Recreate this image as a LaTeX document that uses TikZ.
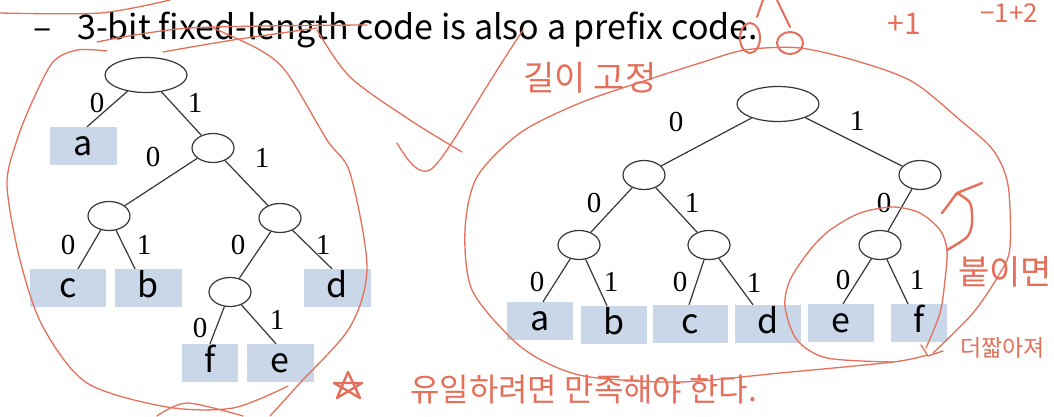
\documentclass[tikz,border=0pt]{standalone}
\usepackage{fontspec}
\setmainfont{Liberation Serif}
\newfontfamily\slidefont{Noto Sans CJK KR}
\newfontfamily\handfont{Noto Sans CJK KR}
\usetikzlibrary{shapes.geometric}
\definecolor{leafbg}{RGB}{202,215,233}
\definecolor{handred}{RGB}{228,112,92}
\definecolor{edgegray}{RGB}{55,55,55}

\begin{document}
\begin{tikzpicture}
      [x=1pt,y=-1pt
      ,knot/.style={ellipse,draw=edgegray,line width=1.2pt,minimum width=42pt,minimum height=29pt,inner sep=0pt}
      ,rootknot/.style={knot,minimum width=82pt,minimum height=35pt}
      ,leaf/.style={fill=leafbg,inner sep=0pt,minimum height=38pt,text height=24pt,text depth=6pt,font=\slidefont\fontsize{34}{34}\selectfont}
      ,bit/.style={font=\fontsize{29}{29}\selectfont}
      ,br/.style={draw=edgegray,line width=1.2pt}
      ,hand/.style={draw=handred,line width=1.3pt,line cap=round,line join=round}
      ,pen/.style={draw=handred,line width=2.4pt,line cap=round,line join=round}
      ,scrawl/.style={text=handred,inner sep=0pt,font=\handfont\fontsize{#1}{#1}\selectfont}
      ]
        \fill[white] (0,0) rectangle (1054,416);
        \useasboundingbox (0,0) rectangle (1054,416);

        % heading
        \node[anchor=base west,font=\slidefont\fontsize{34}{34}\selectfont] (dash) at (30,39) {–};
        \node[anchor=base west,inner sep=0pt,font=\slidefont\fontsize{34}{34}\selectfont] (title) at (77,39) {3-bit fixed-length code is also a prefix code.};

        % left tree
        \node[rootknot] (L) at (146,75) {};
        \node[knot] (L1) at (213,148) {};
        \node[knot] (L10) at (109,216) {};
        \node[knot] (L11) at (280,218) {};
        \node[knot] (L110) at (230,292) {};
        \foreach \n/\x/\y/\w/\t in {La/83/146/67/a, Lc/68/288/76/c, Lb/148/288/67/b, Ld/337/288/67/d, Lf/210/363/56/f, Le/280/363/67/e}
        {
            \node[leaf,minimum width=\w pt] (\n) at (\x,\y) {\t};
        }
        \draw[br] (L) -- (L1);
        \draw[br] (L1) -- (L10);
        \draw[br] (L1) -- (L11);
        \draw[br] (L11) -- (L110);
        \foreach \p/\c/\s in {L/La/4, L10/Lc/10, L10/Lb/-13, L11/Ld/-5, L110/Lf/0, L110/Le/-4}
        {
            \draw[br] (\p) -- ([xshift=\s pt]\c.north);
        }
        \foreach \x/\y/\t [count=\i] in {97/103/0, 195/103/1, 153/157/0, 262/158/1, 68/245/0, 144/245/1, 238/245/0, 323/245/1, 200/328/0, 277/320/1}
        {
            \node[bit] (lbit\i) at (\x,\y) {\t};
        }

        % right tree
        \node[rootknot] (R) at (778,104) {};
        \node[knot] (R0) at (644,175) {};
        \node[knot] (R1) at (920,175) {};
        \node[knot] (R00) at (579,245) {};
        \node[knot] (R01) at (709,245) {};
        \node[knot] (R10) at (880,245) {};
        \foreach \n/\x/\y/\w/\t in {Ra/540/321/66/a, Rb/614/325/66/b, Rc/690/324/75/c, Rd/768/324/66/d, Re/841/323/66/e, Rf/919/323/56/f}
        {
            \node[leaf,minimum width=\w pt] (\n) at (\x,\y) {\t};
        }
        \draw[br] (R) -- (R0);
        \draw[br] (R) -- (R1);
        \draw[br] (R0) -- (R00);
        \draw[br] (R0) -- (R01);
        \draw[br] (R1) -- (R10);
        \foreach \p/\c/\s in {R00/Ra/3, R00/Rb/-7, R01/Rc/-1, R01/Rd/-15, R10/Re/2, R10/Rf/-11}
        {
            \draw[br] (\p) -- ([xshift=\s pt]\c.north);
        }
        \foreach \x/\y/\t [count=\i] in {676/122/0, 857/121/1, 594/203/0, 692/203/1, 884/203/0, 537/282/0, 611/282/1, 680/282/0, 754/283/1, 843/280/0, 917/280/1}
        {
            \node[bit] (rbit\i) at (\x,\y) {\t};
        }

        % pen marks
        \draw[hand] plot[smooth] coordinates {(0,13) (100,13) (170,0)};
        \draw[hand] plot[smooth] coordinates {(97,42) (190,28) (367,25)};
        \draw[hand] plot[smooth] coordinates {(163,52) (233,40) (317,28)};
        \draw[hand] plot[smooth] coordinates {(107,51) (77,50) (53,62) (33,100) (17,140) (7,185) (20,260) (43,327) (87,383) (167,407) (233,408) (288,386)};
        \draw[hand] plot[smooth] coordinates {(213,28) (260,50) (287,73) (327,140) (350,173) (367,267) (350,327) (300,383) (270,416)};
        \draw[hand] plot[smooth] coordinates {(157,416) (187,403) (243,416)};
        \draw[hand] plot[smooth] coordinates {(317,30) (350,77) (410,120) (462,152)};
        \draw[hand] (397,143) .. controls (410,165) and (420,175) .. (430,170) .. controls (445,160) and (470,110) .. (523,30);
        \draw[hand] plot[smooth] coordinates {(927,355) (893,362) (780,373) (680,382) (590,377) (547,363) (513,340) (472,290) (465,230) (477,177) (520,133) (580,103) (647,80) (700,63) (745,50) (800,48) (860,62) (913,82) (960,120) (993,150) (1008,185) (1010,247) (1000,273) (973,313) (933,353)};
        \draw[hand] (921,345) -- (928,356) -- (943,351);
        \draw[hand] plot[smooth] coordinates {(926,348) (940,313) (945,280) (947,250) (940,230) (920,213) (893,207) (860,213) (830,230) (810,250) (790,280) (785,307) (797,340) (827,358) (893,362)};
        \draw[pen] (942,213) -- (957,193) -- (982,183);
        \draw[pen] plot[smooth] coordinates {(957,193) (970,203) (972,223) (967,237) (947,250)};
        \draw[pen] (337,398) -- (348,372) -- (360,398) -- (334,383) -- (362,383) -- cycle;
        \draw[hand,line width=2pt] (750,38) ellipse (10 and 15);
        \draw[hand,line width=2pt] (790,43) ellipse (13 and 11);
        \draw[hand,line width=2pt] (757,17) -- (763,0);
        \draw[hand,line width=2pt] (777,0) -- (790,27);

        % pen writing
        \node[scrawl=34] (w1) at (590,78) {길이 고정};
        \node[scrawl=34] (w2) at (1005,272) {붙이면};
        \node[scrawl=23,anchor=west] (w3) at (960,348) {더짧아져};
        \node[scrawl=32,anchor=west] (w4) at (410,390) {유일하려면 만족해야 한다.};
        \node[scrawl=30] (w5) at (904,24) {+1};
        \node[scrawl=26,anchor=north west] (w6) at (980,3) {−1+2};

\end{tikzpicture}
\end{document}
